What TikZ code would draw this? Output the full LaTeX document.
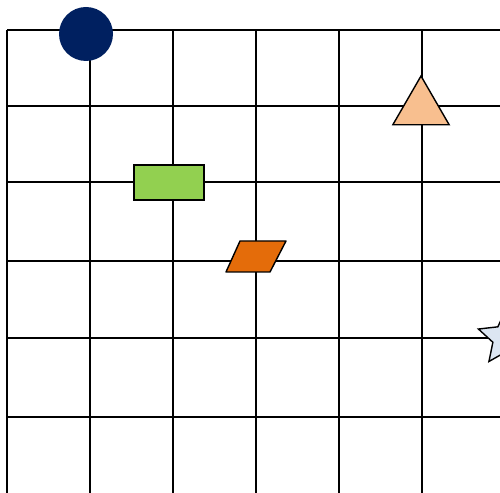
\documentclass[tikz,border=0pt]{standalone}
\usepackage{tikz}
\usetikzlibrary{shapes.geometric,calc}
\definecolor{navyblue}{RGB}{0,32,96}
\definecolor{leafgreen}{RGB}{146,208,80}
\definecolor{peach}{RGB}{248,191,143}
\definecolor{rust}{RGB}{228,108,10}
\definecolor{paleblue}{RGB}{220,230,242}

\begin{document}
\begin{tikzpicture}[x=0.2mm,y=-0.2mm,
  gl/.style={line width=1.1pt}, sh/.style={draw,line width=0.8pt,inner sep=0pt}]
  \useasboundingbox (0,0) rectangle (500,493);
  \clip (0,0) rectangle (500,493);
  \foreach \x in {7,90,173,256,339,422,505} \draw[gl](\x,30)--(\x,500);
  \foreach \y in {30,106,182,261,338,417} \draw[gl](7,\y)--(505,\y);
  \node[circle,fill=navyblue,inner sep=0pt,minimum size=10.8mm](dot) at (86,34){};
  \node[sh,fill=leafgreen,minimum width=14mm,minimum height=7mm](box) at (169,182.5){};
  \node[sh,fill=peach,regular polygon,regular polygon sides=3,minimum size=13mm](tri) at (421,108.5){};
  \coordinate(para) at (256,256.5);
  \draw[sh,fill=rust,line join=round]($(para)+(-30,15.5)$)--++(44,0)--++(16,-31)--++(-46,0)--cycle;
  \node[sh,fill=paleblue,star,star points=5,star point ratio=2.1,minimum size=11.6mm](pt) at (506,338){};
\end{tikzpicture}
\end{document}
